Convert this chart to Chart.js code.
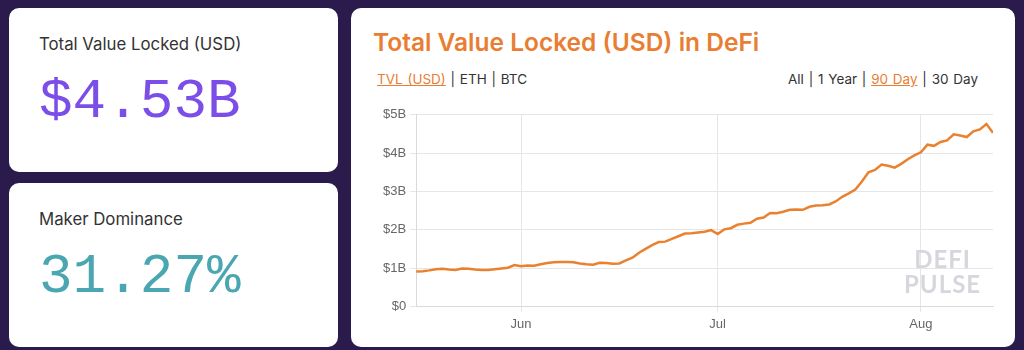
<!DOCTYPE html>
<html>
<head>
<meta charset="utf-8">
<script src="https://cdn.jsdelivr.net/npm/chart.js@4"></script>
<style>
  html, body { margin: 0; padding: 0; }
  body { width: 1024px; height: 350px; background: #2b1a4c; position: relative; overflow: hidden; font-family: "Inter", "Noto Sans", sans-serif; }
  .card { position: absolute; background: #fff; border-radius: 10px; }
  .label { position: absolute; left: 30px; font-size: 16.8px; color: #333; }
  .big { position: absolute; left: 30px; font-family: "Liberation Mono", monospace; font-size: 56px; }
  #title { position: absolute; left: 22px; top: 19px; font-size: 24.5px; font-weight: 600; color: #e97d32; }
  .opts { position: absolute; top: 63px; font-size: 13.5px; color: #333; word-spacing: 1px; }
  .opts u { color: #e97d32; }
  #mark { position: absolute; left: 553px; top: 238px; font-size: 24px; line-height: 25px; color: #d6d6dc; font-weight: 700; letter-spacing: 1px; text-align: center; font-family: "Lato", sans-serif; }
  #wrap { position: absolute; left: 28px; top: 95px; width: 622px; height: 233px; }
</style>
</head>
<body>
<div class="card" style="left:9px;top:8px;width:329px;height:164px;">
  <div class="label" style="top:26px;">Total Value Locked (USD)</div>
  <div class="big" style="top:62px;color:#7b4ee8;">$4.53B</div>
</div>
<div class="card" style="left:9px;top:183px;width:329px;height:164px;">
  <div class="label" style="top:26px;">Maker Dominance</div>
  <div class="big" style="top:62px;color:#4aa7b2;">31.27%</div>
</div>
<div class="card" style="left:351px;top:8px;width:664px;height:339px;">
  <div id="title">Total Value Locked (USD) in DeFi</div>
  <div class="opts" style="left:26px;"><u>TVL (USD)</u> | ETH | BTC</div>
  <div class="opts" style="right:37px;">All | 1 Year | <u>90 Day</u> | 30 Day</div>
  <div id="wrap"><canvas id="tvl"></canvas></div>
  <div id="mark">DEFI<br>PULSE</div>
</div>
<script>
// day 0 = May 16, one value per day (billions USD)
const tvl = [
  0.91, 0.92, 0.94, 0.97, 0.98, 0.96, 0.95, 0.99, 0.98, 0.96,
  0.95, 0.95, 0.97, 0.99, 1.01, 1.08, 1.05, 1.07, 1.06, 1.10,
  1.13, 1.15, 1.16, 1.16, 1.15, 1.12, 1.10, 1.09, 1.14, 1.13,
  1.11, 1.12, 1.20, 1.27, 1.40, 1.50, 1.60, 1.68, 1.69, 1.76,
  1.83, 1.90, 1.91, 1.93, 1.95, 1.99, 1.89, 2.01, 2.04, 2.13,
  2.16, 2.18, 2.29, 2.32, 2.44, 2.43, 2.47, 2.52, 2.53, 2.52,
  2.60, 2.63, 2.64, 2.66, 2.74, 2.86, 2.95, 3.05, 3.26, 3.50,
  3.56, 3.70, 3.67, 3.62, 3.72, 3.84, 3.94, 4.02, 4.22, 4.19,
  4.29, 4.33, 4.49, 4.46, 4.42, 4.57, 4.62, 4.76, 4.53
];
const monthDays = [16, 46, 77];
const monthLabels = ['Jun', 'Jul', 'Aug'];
const yTicks = [0, 1, 2, 3, 4, 5];

const tickFont = { family: '"Liberation Sans", Arial, sans-serif', size: 13 };

new Chart(document.getElementById('tvl'), {
  type: 'line',
  data: {
    datasets: [{
      data: tvl.map((v, i) => ({ x: i, y: v })),
      borderColor: '#e9812f',
      borderWidth: 2.5,
      pointRadius: 0,
      tension: 0,
      fill: false,
    }],
  },
  options: {
    responsive: true,
    maintainAspectRatio: false,
    animation: false,
    plugins: { legend: { display: false }, tooltip: { enabled: false } },
    layout: { padding: { left: 0, right: 8, top: 4, bottom: 0 } },
    scales: {
      x: {
        type: 'linear',
        min: 0,
        max: tvl.length - 1,
        afterBuildTicks(axis) {
          axis.ticks = monthDays.map(v => ({ value: v }));
        },
        ticks: {
          color: '#666',
          font: tickFont,
          padding: 4,
          callback: (v) => monthLabels[monthDays.indexOf(v)],
        },
        grid: { color: '#e6e6e6', tickLength: 6 },
        border: { color: '#d9d9d9' },
      },
      y: {
        min: 0,
        max: 5,
        afterBuildTicks(axis) {
          axis.ticks = yTicks.map(v => ({ value: v }));
        },
        ticks: {
          color: '#666',
          font: tickFont,
          padding: 4,
          callback: (v) => v === 0 ? '$0' : '$' + v + 'B',
        },
        grid: { color: '#e6e6e6', tickLength: 6 },
        border: { color: '#d9d9d9' },
      },
    },
  },
});
</script>
</body>
</html>
